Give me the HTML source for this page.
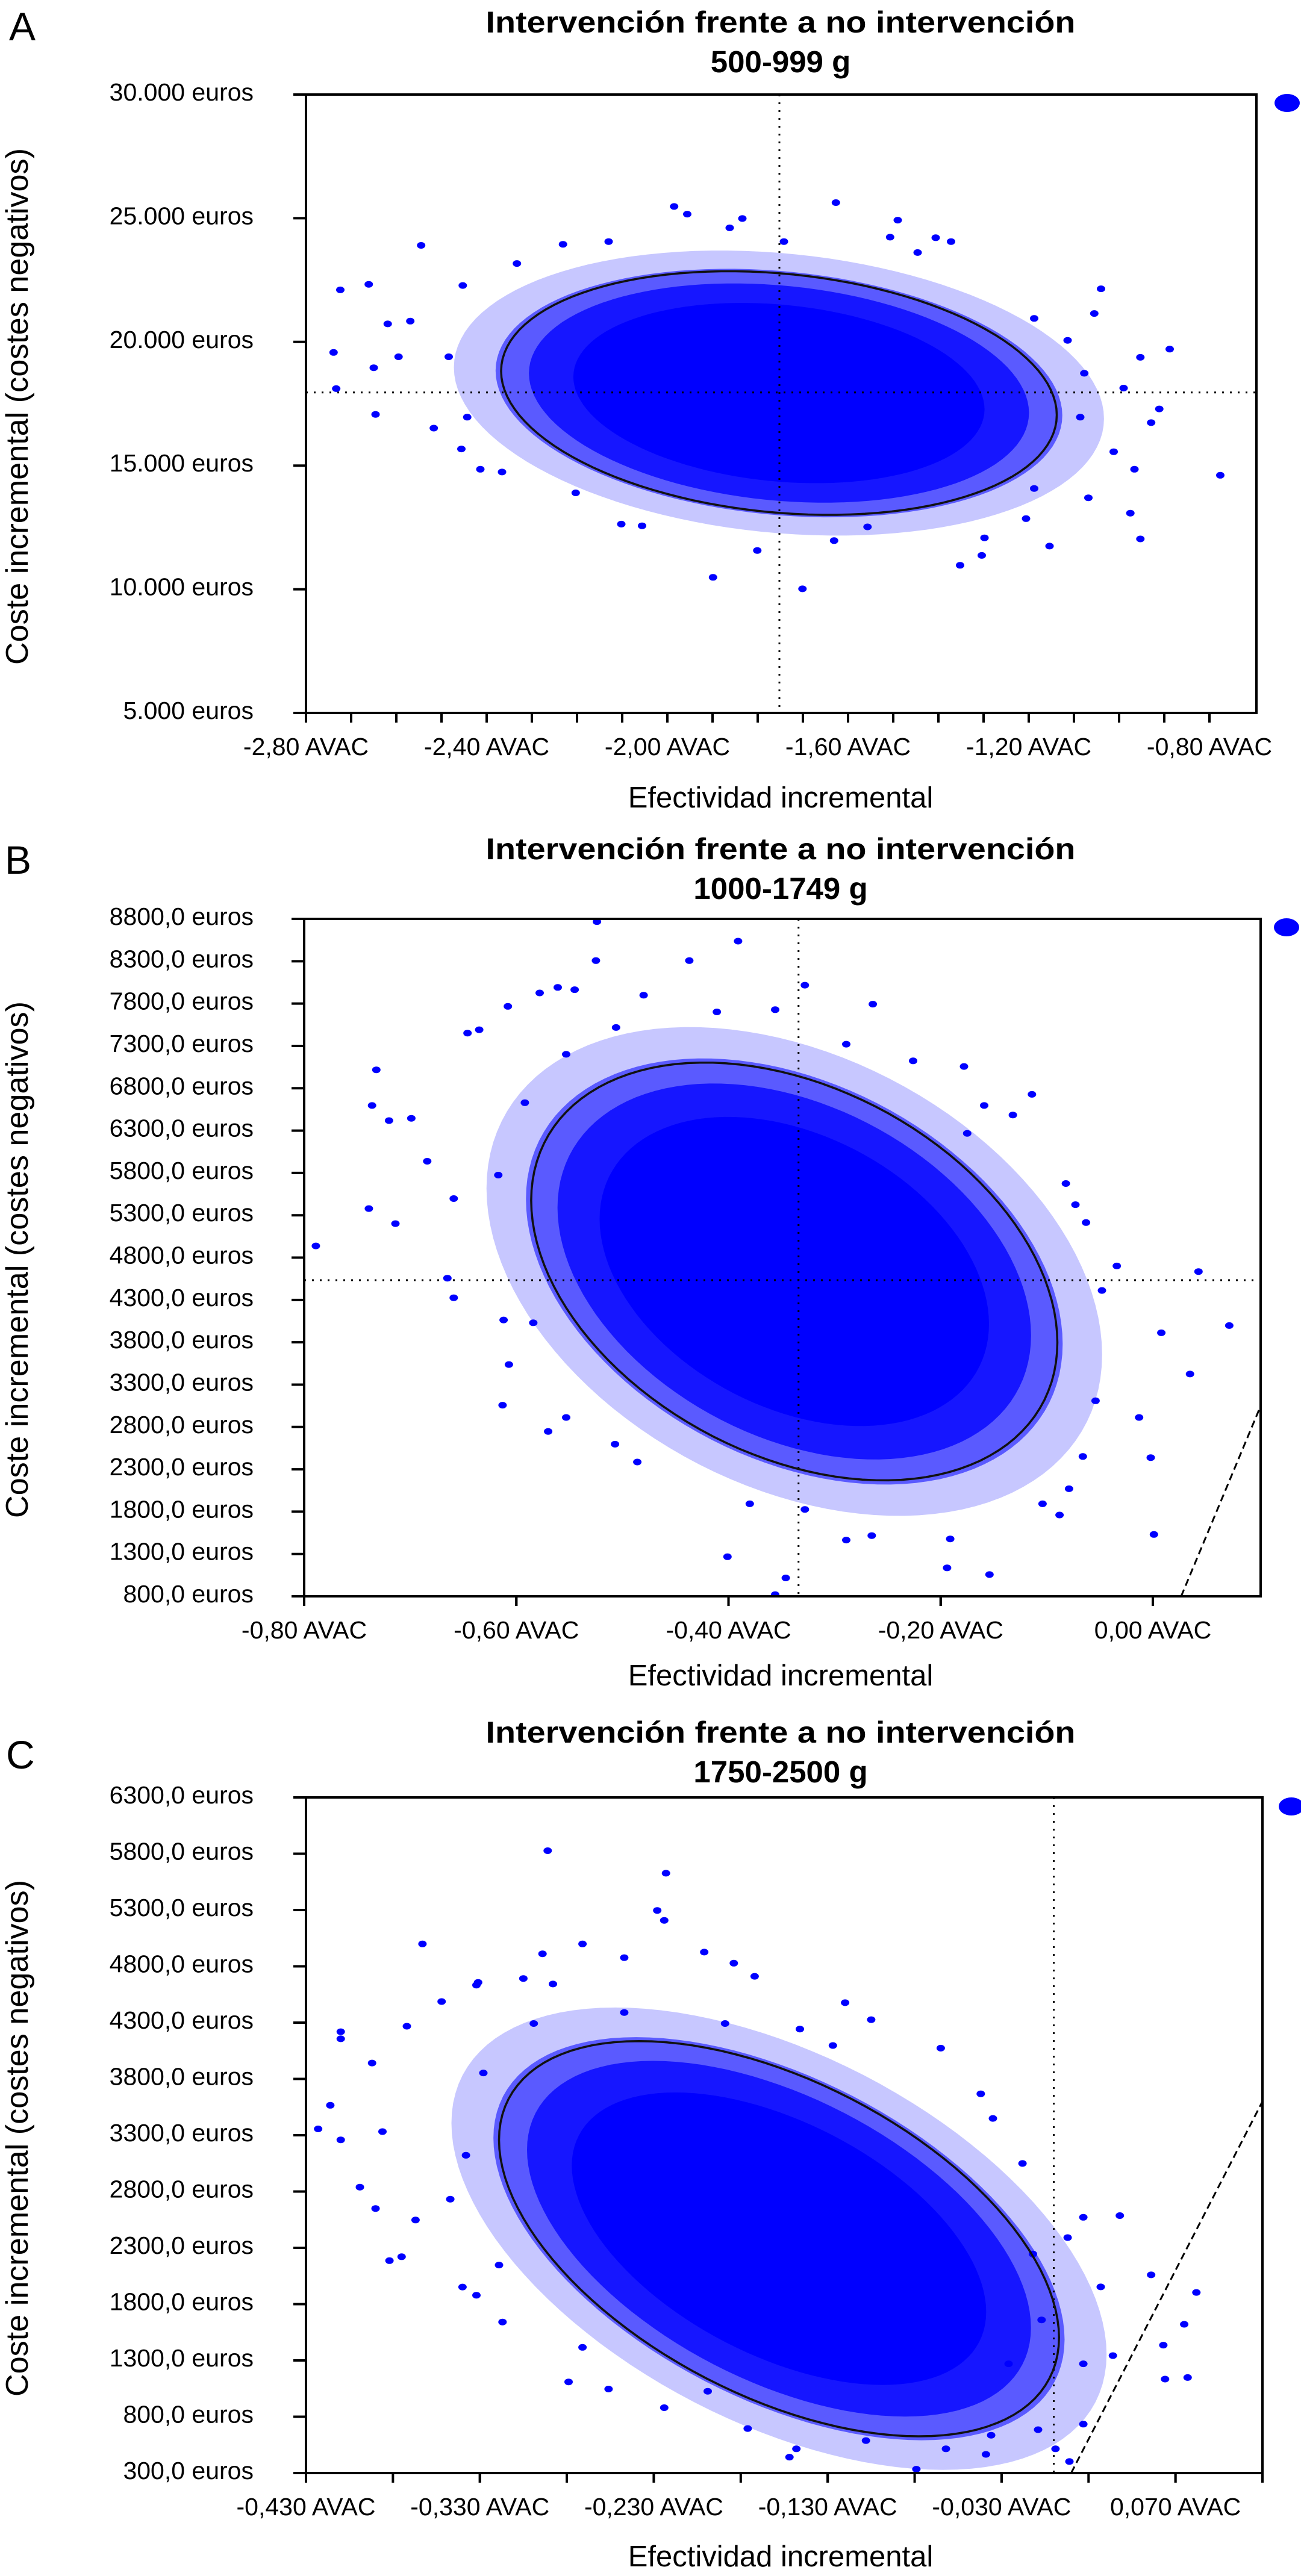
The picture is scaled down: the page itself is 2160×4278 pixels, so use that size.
<!DOCTYPE html>
<html><head><meta charset="utf-8"><title>Intervención frente a no intervención</title>
<style>html,body{margin:0;padding:0;background:#fff}svg{display:block}text{font-family:"Liberation Sans",Arial,sans-serif;fill:#000}</style>
</head><body>
<svg id="fig" xmlns="http://www.w3.org/2000/svg" width="2160" height="4278" viewBox="0 0 2160 4278"></svg>
<script>
// ---------- Panel A data (500-999 g) ----------
const aXTicks = [-2.8,-2.4,-2.0,-1.6,-1.2,-0.8];
const aXTickLabels = ["-2,80 AVAC","-2,40 AVAC","-2,00 AVAC","-1,60 AVAC","-1,20 AVAC","-0,80 AVAC"];
const aXMinor = [-2.8,-2.7,-2.6,-2.5,-2.4,-2.3,-2.2,-2.1,-2.0,-1.9,-1.8,-1.7,-1.6,-1.5,-1.4,-1.3,-1.2,-1.1,-1.0,-0.9,-0.8];
const aYTicks = [30000,25000,20000,15000,10000,5000];
const aYTickLabels = ["30.000 euros","25.000 euros","20.000 euros","15.000 euros","10.000 euros","5.000 euros"];
const aMean = [-1.752, 17956];
const aEllipse = [-1.753, 17932, 0.615, 4925, -0.18]; // cx, cy, sx, sy, rho
const aEffect = [-2.724,-2.661,-2.739,-2.733,-2.650,-2.646,-2.619,-2.595,-2.569,-2.545,-2.517,-2.456,-2.414,-2.366,-1.985,-1.956,-1.862,-1.834,-1.899,-1.701,-1.801,-1.627,-1.490,-1.406,-1.507,-1.352,-1.304,-1.154,-1.040,-1.055,-0.953,-0.888,-0.911,-0.990,-0.776,-0.975,-0.953,-1.068,-1.188,-0.966,-1.012,-0.929,-1.086,-2.056,-2.102,-1.631,-1.557,-2.203,-1.206,-1.298,-1.372,-1.446,-1.742,-2.130,-2.231,-2.333,-2.453,-2.484,-2.443,-1.188,-1.114,-1.077];
const aCost = [22104,22326,19575,18111,18955,17069,20729,19398,20840,23901,16514,15672,14851,14740,25475,25165,24610,24987,10482,10016,11568,25630,24921,24211,24233,10970,11369,11746,22148,21150,19376,19709,17291,18134,14607,13076,12034,13698,14075,14851,15561,16736,16958,12566,12633,11968,12522,13897,12855,12078,24056,23612,24056,24056,23945,23169,22282,19398,16958,20950,20063,18732];

// ---------- Panel B data (1000-1749 g) ----------
const bXTicks = [-0.8,-0.6,-0.4,-0.2,0.0];
const bXTickLabels = ["-0,80 AVAC","-0,60 AVAC","-0,40 AVAC","-0,20 AVAC","0,00 AVAC"];
const bXMinor = [-0.8,-0.6,-0.4,-0.2,0.0];
const bYTicks = [8800,8300,7800,7300,6800,6300,5800,5300,4800,4300,3800,3300,2800,2300,1800,1300,800];
const bYTickLabels = ["8800,0 euros","8300,0 euros","7800,0 euros","7300,0 euros","6800,0 euros","6300,0 euros","5800,0 euros","5300,0 euros","4800,0 euros","4300,0 euros","3800,0 euros","3300,0 euros","2800,0 euros","2300,0 euros","1800,0 euros","1300,0 euros","800,0 euros"];
const bMean = [-0.334, 4533];
const bEllipse = [-0.338, 4636, 0.248, 2467, -0.34];
const bThreshold = 30000;
const bEffect = [-0.524,-0.391,-0.525,-0.437,-0.561,-0.545,-0.578,-0.480,-0.608,-0.328,-0.264,-0.646,-0.635,-0.732,-0.736,-0.720,-0.699,-0.684,-0.739,-0.714,-0.789,-0.659,-0.665,-0.659,-0.613,-0.607,-0.570,-0.401,-0.346,-0.356,-0.194,-0.154,-0.191,-0.265,0.001,-0.002,-0.013,0.035,0.008,0.072,0.043,-0.048,-0.034,-0.178,-0.114,-0.159,-0.132,-0.082,-0.073,-0.063,-0.054,-0.066,-0.079,-0.104,-0.088,-0.380,-0.328,-0.289,-0.486,-0.507,-0.553,-0.584,-0.612,-0.617,-0.592,-0.553,-0.506,-0.411,-0.356,-0.289,-0.226,-0.175];
const bCost = [8767,8537,8307,8307,7991,7964,7925,7899,7767,8017,7793,7451,7491,7017,6596,6418,6445,5938,5379,5201,4938,5497,4557,4326,3057,3537,2747,1267,1017,820,1136,1057,1478,1517,1530,2438,2912,3425,3912,3997,4635,4412,4701,7057,6728,6596,6484,5675,5425,5214,3109,2451,2070,1892,1760,1892,1826,1464,2386,2596,2912,4030,4063,5774,6629,7201,7517,7701,7728,7320,7123,6267];

// ---------- Panel C data (1750-2500 g) ----------
const cXTicks = [-0.43,-0.33,-0.23,-0.13,-0.03,0.07];
const cXTickLabels = ["-0,430 AVAC","-0,330 AVAC","-0,230 AVAC","-0,130 AVAC","-0,030 AVAC","0,070 AVAC"];
const cXMinor = [-0.43,-0.38,-0.33,-0.28,-0.23,-0.18,-0.13,-0.08,-0.03,0.02,0.07,0.12];
const cYTicks = [6300,5800,5300,4800,4300,3800,3300,2800,2300,1800,1300,800,300];
const cYTickLabels = ["6300,0 euros","5800,0 euros","5300,0 euros","4800,0 euros","4300,0 euros","3800,0 euros","3300,0 euros","2800,0 euros","2300,0 euros","1800,0 euros","1300,0 euros","800,0 euros","300,0 euros"];
const cMeanX = 0.0;
const cEllipse = [-0.158, 2381, 0.161, 1755, -0.50];
const cThreshold = 30000;
const cEffect = [-0.291,-0.223,-0.228,-0.224,-0.363,-0.271,-0.294,-0.201,-0.247,-0.184,-0.172,-0.331,-0.332,-0.305,-0.352,-0.288,-0.410,-0.410,-0.372,-0.392,-0.416,-0.423,-0.410,-0.386,-0.399,-0.390,-0.382,-0.375,-0.367,-0.340,-0.332,-0.317,-0.279,-0.256,-0.224,-0.120,-0.105,-0.065,-0.042,-0.035,-0.018,0.017,0.038,0.056,0.082,0.063,0.075,0.064,0.077,0.034,0.017,0.017,0.001,0.009,-0.079,-0.062,-0.039,-0.148,-0.152,-0.176,-0.108,-0.026,-0.007,-0.012,0.008,0.027,-0.036,-0.009,-0.328,-0.338,-0.347,-0.319,-0.271,-0.199,-0.127,-0.146,-0.189,-0.247,-0.299];
const cCost = [5827,5627,5296,5208,4999,4999,4911,4926,4877,4828,4711,4657,4633,4692,4487,4643,4219,4156,4268,3941,3566,3356,3259,3332,2839,2649,2186,2221,2547,1952,1879,1641,1109,1046,880,4477,4326,4073,3668,3449,3049,2571,2586,2060,1904,1436,1621,1134,1148,1343,1270,734,515,402,334,515,466,515,441,695,588,1270,1660,2245,2391,1953,636,685,3853,3122,2732,2147,1416,1026,4097,4243,4292,4390,4292];

// ---------- rendering ----------
const NS = 'http://www.w3.org/2000/svg';
const svg = document.getElementById('fig');
function mk(tag, attrs, parent){
  const e = document.createElementNS(NS, tag);
  for (const k in attrs) e.setAttribute(k, attrs[k]);
  (parent || svg).appendChild(e);
  return e;
}
function linScale(d0, d1, r0, r1){ return v => r0 + (v - d0) / (d1 - d0) * (r1 - r0); }

function drawPanel(p){
  const g = mk('g', {});
  
  
  const X = linScale(p.xd[0], p.xd[1], p.L, p.R);
  const Y = linScale(p.yd[0], p.yd[1], p.B, p.T);

  const clipId = 'clip-' + p.key;
  const cp = mk('clipPath', {id: clipId}, g);
  mk('rect', {x: p.L, y: p.T, width: p.R - p.L, height: p.B - p.T}, cp);

  const letter = mk('text', {x: p.letterX, y: p.letterY, 'font-size': 66}, g);
  letter.textContent = p.letter;
  
  

  const t1 = mk('text', {x: 1296, y: p.titleY, 'font-size': 50, 'font-weight': 'bold', 'text-anchor': 'middle', textLength: 979, lengthAdjust: 'spacingAndGlyphs'}, g);
  t1.textContent = 'Intervención frente a no intervención';
  
  
  const t2 = mk('text', {x: 1296, y: p.titleY + 66, 'font-size': 51, 'font-weight': 'bold', 'text-anchor': 'middle'}, g);
  t2.textContent = p.subtitle;
  
  

  const plot = mk('g', {'clip-path': 'url(#' + clipId + ')'}, g);
  
  

  const [ecx, ecy, esx, esy, erho] = p.ellipse;
  function ellPath(k){
    let d = '';
    for (let i = 0; i <= 120; i++){
      const t = i / 120 * Math.PI * 2;
      const xv = ecx + k * esx * Math.cos(t);
      const yv = ecy + k * esy * (erho * Math.cos(t) + Math.sqrt(1 - erho * erho) * Math.sin(t));
      d += (i ? 'L' : 'M') + X(xv).toFixed(1) + ' ' + Y(yv).toFixed(1);
    }
    return d + 'Z';
  }
  const layers = [[1.17, 0.22], [1.02, 0.55], [0.9, 0.75], [0.74, 1]];
  layers.forEach(function(l){
    const e = mk('path', {d: ellPath(l[0]), fill: '#0000ff', 'fill-opacity': l[1]}, plot);
    
    
  });

  if (p.meanX !== undefined){
    const v = mk('line', {x1: X(p.meanX), x2: X(p.meanX), y1: p.T, y2: p.B, stroke: '#000', 'stroke-width': 3, 'stroke-dasharray': '3 10'}, plot);
    
    
  }
  if (p.meanY !== undefined){
    const h = mk('line', {x1: p.L, x2: p.R, y1: Y(p.meanY), y2: Y(p.meanY), stroke: '#000', 'stroke-width': 3, 'stroke-dasharray': '3 10'}, plot);
    
    
  }

  for (let i = 0; i < p.ex.length; i++){
    const c = mk('ellipse', {cx: X(p.ex[i]).toFixed(1), cy: Y(p.cy[i]).toFixed(1), rx: 7, ry: 5.5, fill: '#0000ff'}, plot);
    
    
  }

  const el = mk('path', {d: ellPath(1), fill: 'none', stroke: '#111', 'stroke-width': 3.5}, plot);
  
  

  if (p.lambda){
    const x0 = p.yd[0] / p.lambda;
    const tl = mk('line', {x1: X(x0), y1: Y(p.yd[0]), x2: X(p.xd[1]), y2: Y(p.lambda * p.xd[1]), stroke: '#000', 'stroke-width': 3, 'stroke-dasharray': '12 7'}, plot);
    
    
  }

  const fr = mk('rect', {x: p.L, y: p.T, width: p.R - p.L, height: p.B - p.T, fill: 'none', stroke: '#000', 'stroke-width': 4}, g);
  
  

  p.yTicks.forEach(function(v, i){
    const yy = Y(v);
    const tk = mk('line', {x1: p.L - 21, x2: p.L, y1: yy, y2: yy, stroke: '#000', 'stroke-width': 4}, g);
    
    
    const tx = mk('text', {x: 421, y: yy + 10, 'font-size': 41, 'text-anchor': 'end'}, g);
    tx.textContent = p.yLabels[i];
    
    
  });
  p.xMinor.forEach(function(v){
    const xx = X(v);
    const tk = mk('line', {x1: xx, x2: xx, y1: p.B, y2: p.B + 16, stroke: '#000', 'stroke-width': 4}, g);
    
    
  });
  p.xTicks.forEach(function(v, i){
    const xx = X(v);
    const tk = mk('line', {x1: xx, x2: xx, y1: p.B, y2: p.B + 16, stroke: '#000', 'stroke-width': 4}, g);
    
    
    const tx = mk('text', {x: xx, y: p.B + 70, 'font-size': 41, 'text-anchor': 'middle'}, g);
    tx.textContent = p.xLabels[i];
    
    
  });

  const xt = mk('text', {x: 1296, y: p.xTitleY, 'font-size': 49, 'text-anchor': 'middle'}, g);
  xt.textContent = 'Efectividad incremental';
  
  
  const yt = mk('text', {x: 0, y: 0, 'font-size': 52, 'text-anchor': 'middle', textLength: 858, lengthAdjust: 'spacingAndGlyphs', transform: 'translate(46,' + p.yTitleC + ') rotate(-90)'}, g);
  yt.textContent = 'Coste incremental (costes negativos)';
  
  

  const lg = mk('ellipse', {cx: p.legX, cy: p.legY, rx: 21, ry: 15, fill: '#0000ff'}, g);
  
  
}

drawPanel({key: 'a', letter: 'A', letterX: 15, letterY: 67, subtitle: '500-999 g', titleY: 54,
  L: 508, R: 2086, T: 157, B: 1184, xd: [-2.8, -2.8 + (2086 - 508) / 1500 * 2], yd: [5000, 30000],
  xTicks: aXTicks, xLabels: aXTickLabels, xMinor: aXMinor, yTicks: aYTicks, yLabels: aYTickLabels,
  meanX: aMean[0], meanY: aMean[1], ellipse: aEllipse, ex: aEffect, cy: aCost,
  xTitleY: 1341, yTitleC: 675, legX: 2137, legY: 171});

drawPanel({key: 'b', letter: 'B', letterX: 8, letterY: 1451, subtitle: '1000-1749 g', titleY: 1427,
  L: 505, R: 2093, T: 1526, B: 2651, xd: [-0.8, 0.1016], yd: [800, 8800],
  xTicks: bXTicks, xLabels: bXTickLabels, xMinor: bXMinor, yTicks: bYTicks, yLabels: bYTickLabels,
  meanX: bMean[0], meanY: bMean[1], ellipse: bEllipse, ex: bEffect, cy: bCost, lambda: bThreshold,
  xTitleY: 2799, yTitleC: 2092, legX: 2136, legY: 1540});

drawPanel({key: 'c', letter: 'C', letterX: 10, letterY: 2937, subtitle: '1750-2500 g', titleY: 2894,
  L: 508, R: 2096, T: 2985, B: 4107, xd: [-0.43, 0.12], yd: [300, 6300],
  xTicks: cXTicks, xLabels: cXTickLabels, xMinor: cXMinor, yTicks: cYTicks, yLabels: cYTickLabels,
  meanX: cMeanX, ellipse: cEllipse, ex: cEffect, cy: cCost, lambda: cThreshold,
  xTitleY: 4262, yTitleC: 3551, legX: 2144, legY: 3000});
</script>
</body></html>
